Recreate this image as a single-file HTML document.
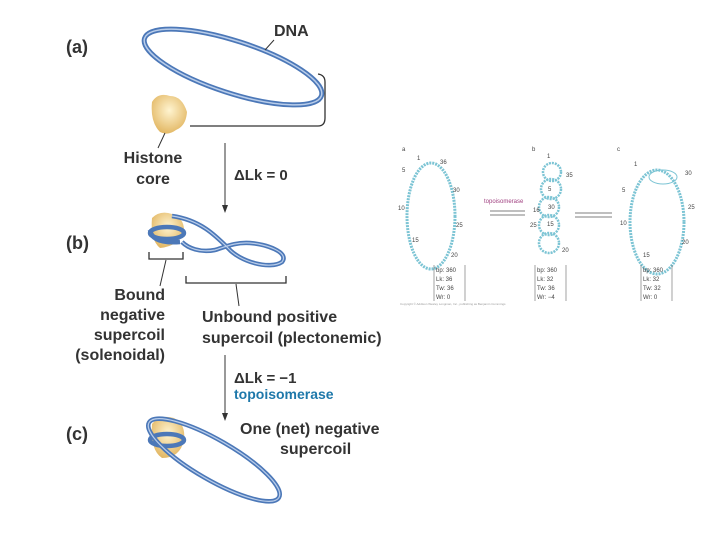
<!DOCTYPE html>
<html><head><style>
body{margin:0;background:#fff}
svg{display:block}
text{font-family:"Liberation Sans",sans-serif}
.b{font-weight:bold;font-size:16px;fill:#333}
.s{font-size:6px;fill:#444}
</style></head><body>
<svg width="720" height="540" viewBox="0 0 720 540">
<defs>
<radialGradient id="h" cx="0.5" cy="0.4" r="0.6"><stop offset="0" stop-color="#fff4d0"/><stop offset="1" stop-color="#e3b865"/></radialGradient>
</defs>
<text x="66" y="53" class="b" style="font-size:18px">(a)</text>
<ellipse cx="233" cy="67" rx="93" ry="26" transform="rotate(18 233 67)" fill="none" stroke="#4c78b8" stroke-width="5"/>
<ellipse cx="233" cy="67" rx="93" ry="26" transform="rotate(18 233 67)" fill="none" stroke="#b9cdea" stroke-width="1.5"/>
<text x="274" y="36" class="b">DNA</text>
<line x1="274" y1="40" x2="265" y2="50" stroke="#333"/>
<path d="M190 126 H318 Q325 126 325 118 V82 Q325 75 318 74" fill="none" stroke="#333" stroke-width="1.3"/>
<path d="M152 102 Q158 92 170 96 Q182 96 187 112 Q186 126 176 130 Q168 136 160 132 Q150 122 152 102Z" fill="url(#h)"/>
<line x1="165" y1="133" x2="158" y2="148" stroke="#333"/>
<text x="153" y="163" class="b" text-anchor="middle">Histone</text>
<text x="153" y="184" class="b" text-anchor="middle">core</text>
<line x1="225" y1="143" x2="225" y2="210" stroke="#333"/>
<path d="M222 205 L225 213 L228 205Z" fill="#333"/>
<text x="234" y="180" class="b" style="font-size:15px">ΔLk = 0</text>

<text x="66" y="249" class="b" style="font-size:18px">(b)</text>
<path d="M152 218 Q160 210 172 214 Q184 218 184 230 Q180 246 160 248 Q150 240 152 218Z" fill="url(#h)"/>
<g fill="none" stroke="#4c78b8" stroke-width="4.5">
<path d="M172 216 C200 220 215 235 228 248 C240 262 270 270 282 262 C290 252 265 244 250 243 C235 242 225 247 215 250 C200 253 188 248 182 242"/>
<ellipse cx="167" cy="233" rx="17" ry="6"/>
<path d="M150 230 Q152 244 180 242"/>
</g>
<g fill="none" stroke="#b9cdea" stroke-width="1.2">
<path d="M172 216 C200 220 215 235 228 248 C240 262 270 270 282 262 C290 252 265 244 250 243 C235 242 225 247 215 250 C200 253 188 248 182 242"/>
</g>
<path d="M149 252 V259 H183 V252 M186 276 V283 H286 V276" fill="none" stroke="#333" stroke-width="1.3"/>
<line x1="166" y1="260" x2="160" y2="286" stroke="#333"/>
<line x1="236" y1="284" x2="239" y2="306" stroke="#333"/>
<text x="165" y="300" class="b" text-anchor="end">Bound</text>
<text x="165" y="320" class="b" text-anchor="end">negative</text>
<text x="165" y="340" class="b" text-anchor="end">supercoil</text>
<text x="165" y="360" class="b" text-anchor="end">(solenoidal)</text>
<text x="202" y="322" class="b">Unbound positive</text>
<text x="202" y="343" class="b">supercoil (plectonemic)</text>
<line x1="225" y1="355" x2="225" y2="418" stroke="#333"/>
<path d="M222 413 L225 421 L228 413Z" fill="#333"/>
<text x="234" y="383" class="b" style="font-size:15px">ΔLk = −1</text>
<text x="234" y="399" class="b" style="font-size:14px;fill:#1e78aa">topoisomerase</text>

<text x="66" y="440" class="b" style="font-size:18px">(c)</text>
<path d="M152 424 Q160 414 174 418 Q186 424 184 440 Q180 458 162 458 Q150 450 152 424Z" fill="url(#h)"/>
<g fill="none" stroke="#4c78b8" stroke-width="4.5">
<ellipse cx="214" cy="460" rx="75" ry="20" transform="rotate(30 214 460)"/>
<ellipse cx="167" cy="440" rx="17" ry="6"/>
</g>
<ellipse cx="214" cy="460" rx="75" ry="20" transform="rotate(30 214 460)" fill="none" stroke="#b9cdea" stroke-width="1.2"/>
<text x="240" y="434" class="b">One (net) negative</text>
<text x="280" y="454" class="b">supercoil</text>

<!-- right figure -->
<g font-size="6">
<text x="402" y="151" class="s">a</text><text x="532" y="151" class="s">b</text><text x="617" y="151" class="s">c</text>
<ellipse cx="431" cy="216" rx="24" ry="53" fill="none" stroke="#7cc4d4" stroke-width="3" stroke-dasharray="2 1"/>
<text x="440" y="164" class="s">36</text><text x="417" y="160" class="s">1</text><text x="402" y="172" class="s">5</text><text x="453" y="192" class="s">30</text><text x="398" y="210" class="s">10</text><text x="456" y="227" class="s">25</text><text x="412" y="242" class="s">15</text><text x="451" y="257" class="s">20</text>
<text x="484" y="203" class="s" style="fill:#a04080">topoisomerase</text>
<path d="M490 211 H525 M490 215 H525" stroke="#555" stroke-width=".7"/>
<g fill="none" stroke="#7cc4d4" stroke-width="2.5" stroke-dasharray="2 1">
<circle cx="552" cy="172" r="9"/><circle cx="551" cy="189" r="10"/><circle cx="549" cy="207" r="10"/><circle cx="549" cy="225" r="10"/><circle cx="549" cy="243" r="10"/>
</g>
<text x="547" y="158" class="s">1</text><text x="566" y="177" class="s">35</text><text x="548" y="191" class="s">5</text><text x="548" y="209" class="s">30</text><text x="533" y="212" class="s">16</text><text x="547" y="226" class="s">15</text><text x="530" y="227" class="s">25</text><text x="562" y="252" class="s">20</text>
<path d="M575 213 H612 M575 217 H612" stroke="#555" stroke-width=".7"/>
<ellipse cx="657" cy="222" rx="27" ry="52" fill="none" stroke="#7cc4d4" stroke-width="3" stroke-dasharray="2 1"/>
<ellipse cx="663" cy="177" rx="14" ry="7" fill="none" stroke="#7cc4d4" stroke-width="1"/>
<text x="634" y="166" class="s">1</text><text x="685" y="175" class="s">30</text><text x="622" y="192" class="s">5</text><text x="688" y="209" class="s">25</text><text x="620" y="225" class="s">10</text><text x="682" y="244" class="s">20</text><text x="643" y="257" class="s">15</text>
<text x="436" y="272" class="s">bp: 360</text><text x="436" y="281" class="s">Lk:  36</text><text x="436" y="290" class="s">Tw:  36</text><text x="436" y="299" class="s">Wr:   0</text>
<text x="537" y="272" class="s">bp: 360</text><text x="537" y="281" class="s">Lk:  32</text><text x="537" y="290" class="s">Tw:  36</text><text x="537" y="299" class="s">Wr:  −4</text>
<text x="643" y="272" class="s">bp: 360</text><text x="643" y="281" class="s">Lk:  32</text><text x="643" y="290" class="s">Tw:  32</text><text x="643" y="299" class="s">Wr:   0</text>
<path d="M434 265 V301 M465 265 V301 M535 265 V301 M566 265 V301 M641 265 V301 M672 265 V301" stroke="#666" stroke-width=".6"/>
<text x="400" y="305" class="s" style="font-size:3px;fill:#999">Copyright © Addison Wesley Longman, Inc., publishing as Benjamin Cummings</text>
</g>
</svg>
</body></html>
